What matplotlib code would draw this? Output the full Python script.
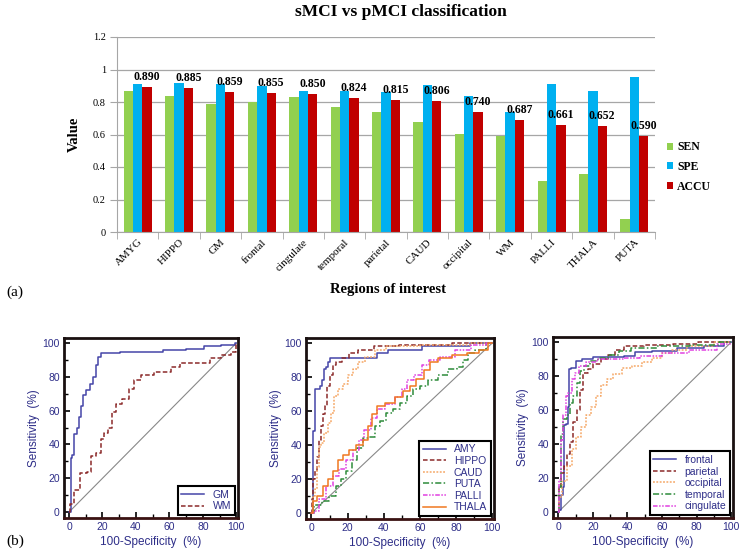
import numpy as np
import matplotlib
matplotlib.use("Agg")
import matplotlib.pyplot as plt
from matplotlib.ticker import MultipleLocator

# ---- (a) bar chart data ----
regions = ['AMYG', 'HIPPO', 'GM', 'frontal', 'cingulate', 'temporal', 'parietal',
           'CAUD', 'occipital', 'WM', 'PALLI', 'THALA', 'PUTA']
sen = [0.865, 0.840, 0.789, 0.800, 0.830, 0.769, 0.738, 0.675, 0.605, 0.589, 0.315, 0.356, 0.080]
spe = [0.910, 0.918, 0.908, 0.896, 0.865, 0.865, 0.860, 0.902, 0.834, 0.740, 0.910, 0.865, 0.953]
accu = [0.890, 0.885, 0.859, 0.855, 0.850, 0.824, 0.815, 0.806, 0.740, 0.687, 0.661, 0.652, 0.590]
ytick_labels = ['0', '0.2', '0.4', '0.6', '0.8', '1', '1.2']

# ---- (b) ROC curves (100-specificity, sensitivity) ----
gm_fpr = [0, 1, 1, 2.6, 3.6, 5.6, 6.6, 7.5, 9.5, 11, 13.5, 15.5, 16.5, 18, 20.5, 40, 50, 62, 78, 83, 99, 100]
gm_tpr = [0, 0, 32, 34, 46, 50, 56, 63, 69, 72, 76, 80, 87, 92, 94, 94.5, 95, 96, 96.5, 98, 99, 100]
wm_fpr = [0, 1.6, 4.6, 8.5, 12.5, 13.5, 18.5, 19.5, 22.5, 24.5, 26.5, 29.5, 34.4, 37.4, 40, 46, 56, 66, 67, 80, 88, 94, 100, 100]
wm_tpr = [0, 5, 13, 23, 24, 33, 35, 43, 47, 50, 59, 64, 67, 73, 78, 81, 83, 86, 88, 88, 91, 93, 95, 100]

amy_fpr = [0, 1, 1, 2, 2, 4.3, 5, 6.3, 7.6, 9, 9.5, 11, 13.5, 35, 38, 47, 75, 100]
amy_tpr = [0, 0, 48, 48, 73, 73, 75, 78, 85, 86, 89, 91, 91, 91, 94, 96, 98, 100]
hippo_fpr = [0, 0.5, 1.5, 2.4, 3.3, 4.6, 5.8, 7, 8, 9.5, 10.8, 12.6, 14.5, 19, 23, 28.5, 41, 56, 100]
hippo_tpr = [0, 8, 20, 25, 33, 43, 51, 58, 63, 75, 81, 87, 89, 91, 94, 96, 98, 99, 100]
caud_fpr = [0, 1.5, 2.4, 3.3, 4.6, 6, 8, 10, 12, 13.5, 16.4, 19, 22, 24, 27.5, 32, 38, 45, 75, 100]
caud_tpr = [0, 10, 14, 27, 39, 41, 47, 53, 59, 69, 73, 76, 81, 85, 89, 92, 96, 98, 99, 100]
puta_fpr = [0, 3.3, 8, 11.7, 15.4, 17, 21, 24, 26.6, 30, 34, 36.8, 39.6, 43.3, 47, 50.7, 54.5, 58, 62, 67.5, 73, 78.6, 82, 86, 87, 93.5, 100]
puta_tpr = [0, 5, 7, 10, 16, 20, 25, 31, 38, 44, 45, 51, 54, 59, 61, 65, 69, 73, 75, 78, 81, 85, 86, 90, 94, 96, 100]
palli_fpr = [0, 2.4, 6, 10, 13.5, 17, 21, 24.7, 27.5, 31, 35, 38, 43, 49, 51.7, 54.5, 59, 63, 67.5, 75, 84, 93, 100]
palli_tpr = [0, 1, 8, 16, 22, 26, 31, 37, 43, 49, 56, 61, 64, 68, 73, 78, 81, 87, 90, 92, 96, 99, 100]
thala_fpr = [0, 1.5, 4.3, 8, 10.8, 13.5, 16.4, 19, 23, 26.6, 30.3, 32, 35, 38, 43, 49, 52.6, 56, 60, 64, 67.5, 73, 82, 90, 95, 100]
thala_tpr = [0, 7, 10, 16, 20, 25, 31, 34, 37, 40, 43, 51, 58, 63, 65, 68, 72, 75, 79, 84, 89, 91, 93, 94, 96, 100]

frontal_fpr = [0, 1, 2, 3.3, 3.9, 5.2, 5.8, 6.4, 8.7, 11.6, 16.4, 24, 34, 41.6, 47, 61, 76, 92, 100]
frontal_tpr = [0, 1, 10, 15, 51, 52, 62, 84, 85, 89, 90, 91, 91, 92, 94, 94.5, 96.5, 97.5, 100]
parietal_fpr = [0, 1, 2.5, 3.9, 5.8, 7.7, 9.7, 11.6, 13.5, 15.5, 18.4, 22, 27, 31, 35, 41.6, 57, 76, 86, 100]
parietal_tpr = [0, 15, 23, 27, 34, 41, 53, 60, 72, 82, 84, 87, 90, 92.5, 95.5, 97.5, 98.5, 99, 100, 100]
occipital_fpr = [0, 1, 3.9, 6.8, 8.7, 11.6, 14.5, 17.4, 20.3, 23.2, 26, 30, 33.8, 39.6, 45.5, 51, 57, 63, 68.7, 80, 100]
occipital_tpr = [0, 9, 18, 27, 37, 44, 50, 57, 62, 68, 75, 78, 81, 85, 86, 88, 90.6, 93.5, 95.5, 97.5, 100]
temporal_fpr = [0, 1, 2, 3.9, 5.8, 7.7, 9.7, 11.6, 13.5, 16.4, 20.3, 26, 32, 37.7, 47, 66.7, 86, 100]
temporal_tpr = [0, 15, 46, 55, 57, 64, 68, 76, 83, 86, 89, 90.5, 92.5, 94.5, 96.5, 97.5, 98.5, 100]
cingulate_fpr = [0, 1, 2, 3.9, 4.8, 6.8, 8.7, 10.6, 13.5, 18.4, 26, 34, 41.6, 53, 66.7, 84, 100]
cingulate_tpr = [0, 19, 42.5, 57, 68, 70, 78, 82, 86, 88, 90, 90, 90.6, 91.6, 93.5, 95.5, 99]

SERIF = 'Liberation Serif'
SANS = 'Liberation Sans'
NAVY = '#2e2e88'
W, H = 744, 553

fig = plt.figure(figsize=(W / 100, H / 100), dpi=100)


def px_rect(x0, y0, x1, y1):
    # pixel box (top-left origin) -> figure fraction rect
    return [x0 / W, 1 - y1 / H, (x1 - x0) / W, (y1 - y0) / H]


# ---------------- (a) ----------------
ax = fig.add_axes(px_rect(117, 37, 655, 232))
x = np.arange(len(regions))
w = 0.225
ax.bar(x - w, sen, w, color='#92D050', label='SEN', zorder=2)
ax.bar(x, spe, w, color='#00B0F0', label='SPE', zorder=2)
ax.bar(x + w, accu, w, color='#C00000', label='ACCU', zorder=2)

for xi, v in zip(x, accu):
    ax.annotate(f'{v:.3f}', (xi + w, v), xytext=(0, 5), textcoords='offset points',
                ha='center', va='baseline', fontsize=8.5, fontweight='bold',
                family=SERIF, zorder=3)

ax.set_xlim(-0.5, len(regions) - 0.5)
ax.set_ylim(0, 1.2)
ax.set_yticks(np.arange(0, 1.21, 0.2))
ax.set_yticklabels(ytick_labels, family=SERIF, fontsize=7.5)
ax.yaxis.grid(True, color='#a6a6a6', lw=0.9, zorder=0)
ax.set_axisbelow(True)
for s in ['top', 'right']:
    ax.spines[s].set_visible(False)
for s in ['left', 'bottom']:
    ax.spines[s].set_color('#a6a6a6')
ax.set_xticks(x)
ax.set_xticklabels(regions, rotation=45, ha='right', rotation_mode='anchor',
                   family=SERIF, fontsize=8)
ax.set_xticks(np.arange(-0.5, len(regions), 1), minor=True)
ax.tick_params(axis='x', which='major', length=0, pad=4)
ax.tick_params(axis='x', which='minor', length=5, color='#a6a6a6')
ax.tick_params(axis='y', length=5, color='#a6a6a6', pad=3)

ax.legend(loc='center left', bbox_to_anchor=((667 - 117) / 538, (232 - 167) / 195),
          frameon=False, prop={'family': SERIF, 'weight': 'bold', 'size': 8.5},
          handlelength=0.55, handleheight=0.55, handletextpad=0.3,
          labelspacing=0.65, borderpad=0, borderaxespad=0)

fig.text(401 / W, 1 - 12 / H, 'sMCI vs pMCI classification', ha='center', va='center',
         fontsize=12.5, fontweight='bold', family=SERIF)
fig.text(74 / W, 1 - 134 / H, 'Value', rotation=90, ha='center', va='center',
         fontsize=10.5, fontweight='bold', family=SERIF)
fig.text(388 / W, 1 - 290 / H, 'Regions of interest', ha='center', va='center',
         fontsize=10.5, fontweight='bold', family=SERIF)
fig.text(6 / W, 1 - 292 / H, '(a)', ha='left', va='center', fontsize=11, family=SERIF)
fig.text(6 / W, 1 - 541 / H, '(b)', ha='left', va='center', fontsize=11, family=SERIF)

# ---------------- (b) ----------------
blue_c = '#4545a8'
red_c = '#8b2a2a'
lorange_c = '#f5a766'
green_c = '#2e8b3a'
magenta_c = '#e040e0'
orange_c = '#f07820'

st_solid = '-'
st_dash = (0, (3, 1.5))
st_dot = (0, (1.2, 1))
st_dashdot = (0, (4, 1.5, 1, 1.5))
st_dashdotdot = (0, (3, 1, 1, 1, 1, 1))


def roc_panel(rect, curves):
    a = fig.add_axes(rect)
    a.plot([0, 100], [0, 100], color='#888888', lw=0.8, zorder=1)
    for fpr, tpr, lab, col, ls in curves:
        a.plot(fpr, tpr, drawstyle='steps-mid', color=col, ls=ls, lw=1.1, label=lab, zorder=2)
    a.set_xlim(-3, 101)
    a.set_ylim(-3.5, 103)
    a.xaxis.set_major_locator(MultipleLocator(20))
    a.yaxis.set_major_locator(MultipleLocator(20))
    a.xaxis.set_minor_locator(MultipleLocator(10))
    a.yaxis.set_minor_locator(MultipleLocator(10))
    a.tick_params(which='both', direction='in', colors='black', labelcolor=NAVY,
                  labelsize=7.5, top=False, right=False)
    a.tick_params(which='major', length=4, width=1.2)
    a.tick_params(which='minor', length=3, width=1.0)
    a.tick_params(axis='x', pad=3)
    a.tick_params(axis='y', pad=3)
    for lbl in a.get_xticklabels() + a.get_yticklabels():
        lbl.set_family(SANS)
    for s in a.spines.values():
        s.set_linewidth(2)
        s.set_color('#1a1010')
    a.spines['bottom'].set_color('#3a1212')
    a.set_xlabel('100-Specificity  (%)', color=NAVY, fontsize=8.5, family=SANS, labelpad=3)
    a.set_ylabel('Sensitivity  (%)', color=NAVY, fontsize=8.5, family=SANS, labelpad=1.5)
    leg = a.legend(loc='lower right', prop={'family': SANS, 'size': 7.5}, labelcolor=NAVY,
                   frameon=True, fancybox=False, framealpha=1, edgecolor='black',
                   handlelength=2.2, labelspacing=0.15, borderaxespad=0.3, borderpad=0.35)
    leg.get_frame().set_linewidth(1.5)
    return a


roc_panel(px_rect(64, 338, 238, 518), [
    (gm_fpr, gm_tpr, 'GM', blue_c, st_solid),
    (wm_fpr, wm_tpr, 'WM', red_c, st_dash),
])
roc_panel(px_rect(306, 338, 494, 519), [
    (amy_fpr, amy_tpr, 'AMY', blue_c, st_solid),
    (hippo_fpr, hippo_tpr, 'HIPPO', red_c, st_dash),
    (caud_fpr, caud_tpr, 'CAUD', lorange_c, st_dot),
    (puta_fpr, puta_tpr, 'PUTA', green_c, st_dashdot),
    (palli_fpr, palli_tpr, 'PALLI', magenta_c, st_dashdotdot),
    (thala_fpr, thala_tpr, 'THALA', orange_c, st_solid),
])
roc_panel(px_rect(553, 337, 733, 518), [
    (frontal_fpr, frontal_tpr, 'frontal', blue_c, st_solid),
    (parietal_fpr, parietal_tpr, 'parietal', red_c, st_dash),
    (occipital_fpr, occipital_tpr, 'occipital', lorange_c, st_dot),
    (temporal_fpr, temporal_tpr, 'temporal', green_c, st_dashdot),
    (cingulate_fpr, cingulate_tpr, 'cingulate', magenta_c, st_dashdotdot),
])

fig.savefig('out.png', dpi=100)
